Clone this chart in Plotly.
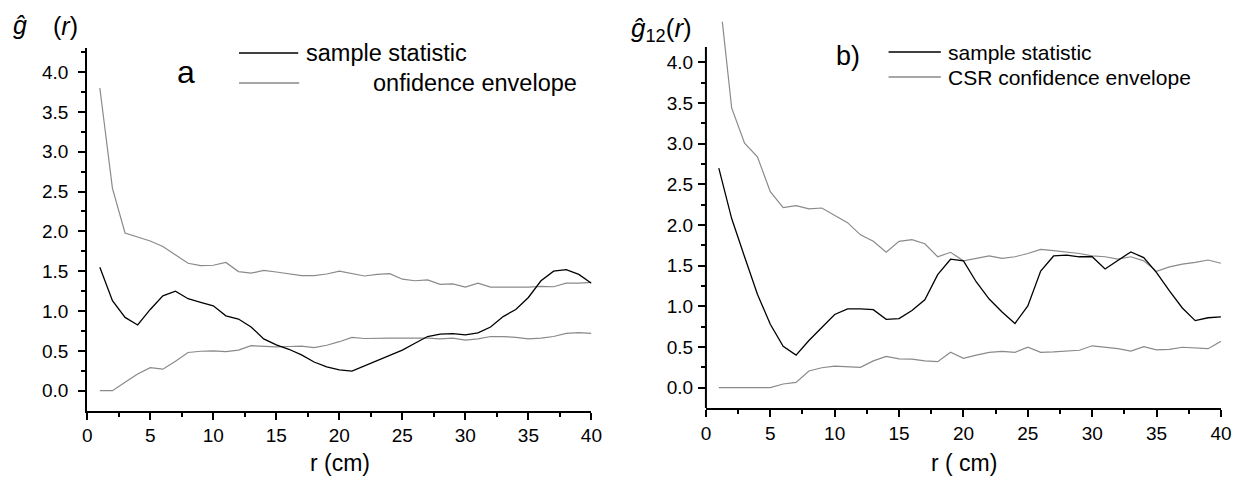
import plotly.graph_objects as go

W, H = 1252, 487

r = list(range(1, 41))

# Panel a
a_sample = [1.55, 1.13, 0.92, 0.825, 1.02, 1.19, 1.25, 1.155, 1.11, 1.065,
            0.94, 0.90, 0.80, 0.65, 0.575, 0.52, 0.45, 0.36, 0.30, 0.26,
            0.245, 0.31, 0.38, 0.435, 0.51, 0.595, 0.68, 0.71, 0.716, 0.70,
            0.725, 0.80, 0.93, 1.02, 1.17, 1.38, 1.50, 1.52, 1.46, 1.35]
a_upper = [3.80, 2.54, 1.98, 1.93, 1.88, 1.81, 1.70, 1.60, 1.57, 1.575,
           1.61, 1.495, 1.475, 1.51, 1.49, 1.465, 1.445, 1.445, 1.465, 1.50,
           1.47, 1.44, 1.46, 1.47, 1.40, 1.38, 1.39, 1.335, 1.34, 1.30,
           1.35, 1.30, 1.30, 1.30, 1.30, 1.31, 1.305, 1.35, 1.35, 1.36]
a_lower = [0.0, 0.0, 0.105, 0.21, 0.29, 0.27, 0.37, 0.48, 0.495, 0.50,
           0.49, 0.51, 0.565, 0.56, 0.55, 0.555, 0.56, 0.54, 0.57, 0.615,
           0.67, 0.655, 0.66, 0.66, 0.66, 0.66, 0.66, 0.65, 0.66, 0.635,
           0.65, 0.68, 0.68, 0.67, 0.65, 0.66, 0.68, 0.72, 0.73, 0.72]

# Panel b
b_sample = [2.70, 2.08, 1.61, 1.15, 0.78, 0.51, 0.40, 0.58, 0.74, 0.90,
            0.97, 0.97, 0.96, 0.84, 0.85, 0.95, 1.08, 1.39, 1.58, 1.56,
            1.30, 1.09, 0.93, 0.79, 1.005, 1.435, 1.62, 1.63, 1.61, 1.61,
            1.46, 1.57, 1.67, 1.60, 1.415, 1.19, 0.98, 0.825, 0.86, 0.87]
b_upper = [4.90, 3.44, 3.006, 2.84, 2.41, 2.214, 2.24, 2.20, 2.21, 2.125,
           2.03, 1.88, 1.80, 1.665, 1.80, 1.82, 1.77, 1.61, 1.665, 1.56,
           1.59, 1.62, 1.59, 1.61, 1.65, 1.70, 1.685, 1.665, 1.65, 1.62,
           1.61, 1.58, 1.61, 1.56, 1.43, 1.485, 1.52, 1.54, 1.57, 1.53]
b_lower = [0.0, 0.0, 0.0, 0.0, 0.0, 0.045, 0.065, 0.205, 0.245, 0.265,
           0.26, 0.25, 0.33, 0.385, 0.355, 0.35, 0.33, 0.32, 0.435, 0.36,
           0.40, 0.435, 0.447, 0.435, 0.497, 0.435, 0.44, 0.45, 0.46, 0.515,
           0.50, 0.48, 0.45, 0.505, 0.465, 0.47, 0.497, 0.49, 0.48, 0.57]

y_major = [0.0, 0.5, 1.0, 1.5, 2.0, 2.5, 3.0, 3.5, 4.0]
y_minor_a = [0.25, 0.75, 1.25, 1.75, 2.25, 2.75, 3.25, 3.75, 4.25]
y_minor_b = [0.25, 0.75, 1.25, 1.75, 2.25, 2.75, 3.25, 3.75]
x_major = [0, 5, 10, 15, 20, 25, 30, 35, 40]
x_minor = [2.5, 7.5, 12.5, 17.5, 22.5, 27.5, 32.5, 37.5]

FONT = "Liberation Sans, Arial, sans-serif"
BLACK = "#000000"
GREY = "#8a8a8a"

def px(x):
    return x / W

def py(y):
    return 1 - y / H

fig = go.Figure()

for xa, ya, s, u, l in [("x", "y", a_sample, a_upper, a_lower),
                        ("x2", "y2", b_sample, b_upper, b_lower)]:
    fig.add_trace(go.Scatter(x=r, y=u, mode="lines", line=dict(color=GREY, width=1.2),
                             xaxis=xa, yaxis=ya, showlegend=False))
    fig.add_trace(go.Scatter(x=r, y=l, mode="lines", line=dict(color=GREY, width=1.2),
                             xaxis=xa, yaxis=ya, showlegend=False))
    fig.add_trace(go.Scatter(x=r, y=s, mode="lines", line=dict(color=BLACK, width=1.3),
                             xaxis=xa, yaxis=ya, showlegend=False))

tickfont = dict(family=FONT, size=19, color=BLACK)

def xaxis_cfg(domain, anchor):
    return dict(domain=domain, anchor=anchor, range=[0, 40], tickmode="array",
                tickvals=x_major, ticktext=[str(v) for v in x_major],
                ticks="outside", ticklen=7, tickwidth=2, tickcolor=BLACK,
                showline=True, linecolor=BLACK, linewidth=2, showgrid=False,
                zeroline=False, tickfont=tickfont, ticklabelstandoff=0,
                minor=dict(tickmode="array", tickvals=x_minor, ticks="outside",
                           ticklen=4, tickwidth=2, tickcolor=BLACK, showgrid=False))

def yaxis_cfg(domain, anchor, rng, minor_vals, showline, standoff):
    return dict(domain=domain, anchor=anchor, range=rng, tickmode="array",
                tickvals=y_major, ticktext=["%.1f" % v for v in y_major],
                ticks="outside", ticklen=7, tickwidth=2, tickcolor=BLACK,
                showline=showline, linecolor=BLACK, linewidth=2, showgrid=False,
                zeroline=False, tickfont=tickfont, ticklabelstandoff=standoff,
                minor=dict(tickmode="array", tickvals=minor_vals, ticks="outside",
                           ticklen=4, tickwidth=2, tickcolor=BLACK, showgrid=False))

fig.update_layout(
    width=W, height=H, margin=dict(l=0, r=0, t=0, b=0),
    paper_bgcolor="white", plot_bgcolor="white",
    xaxis=xaxis_cfg([px(83.3), px(594)], "y"),
    yaxis=yaxis_cfg([py(410.6), py(48.2)], "x", [-0.25, 4.3], y_minor_a, True, 6),
    xaxis2=xaxis_cfg([px(710), px(1231.7)], "y2"),
    yaxis2=yaxis_cfg([py(408), py(21.8)], "x2", [-0.25, 4.5], y_minor_b, False, 1),
)

# y axis line of panel b (stops at 4.19 like the original)
fig.add_shape(type="line", xref="x2 domain", yref="y2 domain", x0=0, x1=0,
              y0=0, y1=(4.19 + 0.25) / 4.75, line=dict(color=BLACK, width=2))

shapes_leg = [
    (237, 297, 53, BLACK), (237, 298, 83, GREY),
    (895, 948, 52, BLACK), (895, 948, 77, GREY),
]
for x0, x1, yy, c in shapes_leg:
    fig.add_shape(type="line", xref="paper", yref="paper", x0=px(x0), x1=px(x1),
                  y0=py(yy), y1=py(yy), line=dict(color=c, width=1.3))

def ann(text, x, y, size, xanchor="left", yanchor="middle"):
    fig.add_annotation(text=text, x=px(x), y=py(y), xref="paper", yref="paper",
                       xanchor=xanchor, yanchor=yanchor, showarrow=False,
                       font=dict(family=FONT, size=size, color=BLACK))

# legend texts
ann("sample statistic", 303, 53, 23.5)
ann("onfidence envelope", 371, 83, 23.5)
ann("sample statistic", 953, 52, 21)
ann("CSR confidence envelope", 953, 77, 21)

# panel labels
ann("a", 183, 72, 32, xanchor="center")
ann("b)", 854, 56, 27, xanchor="center")

# y titles
ann("<i>ĝ</i>", 6, 25, 25)
ann("(<i>r</i>)", 47, 26, 25)
ann("<i>ĝ</i><sub>12</sub>(<i>r</i>)", 632, 29, 26)

# x titles
ann("r (cm)", 339, 463, 23, xanchor="center")
ann("r ( cm)", 971, 463, 23, xanchor="center")

fig.write_html("out.html")
